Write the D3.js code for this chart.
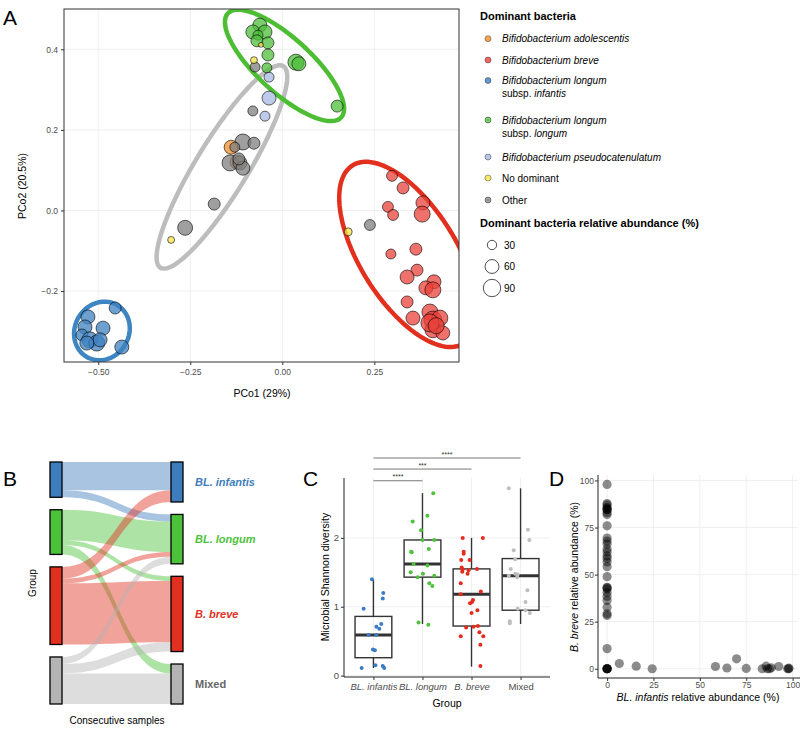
<!DOCTYPE html>
<html>
<head>
<meta charset="utf-8">
<script src="https://cdn.jsdelivr.net/npm/d3@7"></script>
<style>
  html, body { margin: 0; padding: 0; background: #fff; }
  svg { display: block; font-family: "Liberation Sans", Arial, Helvetica, sans-serif; }
</style>
</head>
<body>
<div id="chart"></div>
<script>
// ---- data ----
const speciesKeys = ["adolescentis", "breve", "infantis", "longum", "pseudo", "none", "other"];
const speciesColors = ["#F28E2B", "#E8423A", "#3F81C0", "#4DBD3A", "#A8B8E2", "#F5E447", "#7F7F7F"];

// PCoA points: [PCo1, PCo2, dominant abundance %, species]
const pcoaPoints = [
  [-0.185, 0.016, 36, "other"], [-0.264, -0.043, 56, "other"], [0.238, -0.036, 30, "other"],
  [-0.074, 0.356, 25, "other"], [-0.080, 0.247, 25, "other"], [-0.107, 0.170, 64, "other"],
  [-0.077, 0.167, 36, "other"],
  [-0.139, 0.157, 49, "adolescentis"], [-0.123, 0.120, 49, "adolescentis"],
  [-0.129, 0.157, 25, "other"], [-0.142, 0.118, 64, "other"], [-0.115, 0.118, 49, "other"],
  [-0.107, 0.105, 49, "other"], [-0.118, 0.128, 36, "other"],
  [-0.036, 0.331, 25, "pseudo"], [-0.036, 0.279, 49, "pseudo"], [-0.047, 0.234, 25, "pseudo"],
  [-0.061, 0.460, 49, "longum"], [-0.080, 0.443, 49, "longum"], [-0.047, 0.443, 49, "longum"],
  [-0.066, 0.435, 25, "longum"], [-0.069, 0.421, 36, "longum"], [-0.039, 0.416, 36, "longum"],
  [-0.039, 0.386, 36, "longum"], [-0.042, 0.354, 25, "longum"], [0.037, 0.368, 64, "longum"],
  [0.045, 0.364, 49, "longum"], [0.149, 0.259, 36, "longum"],
  [-0.077, 0.373, 12, "none"], [-0.058, 0.411, 6, "none"], [-0.302, -0.073, 12, "none"], [0.179, -0.053, 16, "none"],
  [0.298, 0.086, 30, "breve"], [0.328, 0.056, 36, "breve"], [0.382, 0.019, 49, "breve"],
  [0.380, -0.009, 64, "breve"], [0.287, 0.009, 30, "breve"], [0.301, -0.011, 30, "breve"],
  [0.295, -0.108, 25, "breve"], [0.363, -0.096, 36, "breve"], [0.366, -0.148, 36, "breve"],
  [0.339, -0.165, 49, "breve"], [0.412, -0.177, 49, "breve"], [0.390, -0.192, 49, "breve"],
  [0.409, -0.197, 64, "breve"], [0.339, -0.227, 36, "breve"], [0.355, -0.267, 49, "breve"],
  [0.401, -0.252, 64, "breve"], [0.409, -0.272, 81, "breve"], [0.428, -0.267, 64, "breve"],
  [0.409, -0.296, 64, "breve"], [0.436, -0.304, 49, "breve"], [0.401, -0.279, 81, "breve"],
  [0.418, -0.286, 64, "breve"],
  [-0.454, -0.242, 36, "infantis"], [-0.528, -0.264, 49, "infantis"], [-0.487, -0.292, 49, "infantis"],
  [-0.536, -0.289, 49, "infantis"], [-0.544, -0.309, 36, "infantis"], [-0.523, -0.321, 64, "infantis"],
  [-0.504, -0.329, 64, "infantis"], [-0.495, -0.321, 49, "infantis"], [-0.531, -0.329, 49, "infantis"],
  [-0.436, -0.339, 49, "infantis"]
];

// group ellipses: centre and two conjugate semi-axes, PCoA units
const ellipses = [
  { color: "#BDBDBD", c: [-0.164, 0.108], a: [0.167, 0.250], b: [0.060, -0.034] },
  { color: "#4DBE34", c: [0.006, 0.360], a: [0.154, -0.129], b: [-0.0497, -0.0494] },
  { color: "#E2301E", c: [0.342, -0.109], a: [0.151, -0.221], b: [-0.111, -0.063] },
  { color: "#3E86C2", c: [-0.490, -0.299], a: [0.041, 0.0645], b: [0.0636, -0.0335] }
];

const pcoaXTicks = [-0.5, -0.25, 0, 0.25];
const pcoaYTicks = [-0.2, 0, 0.2, 0.4];
const sizeLegend = [30, 60, 90];

// Sankey / boxplot groups
const groups = ["BL. infantis", "BL. longum", "B. breve", "Mixed"];
const groupColors = ["#3D7DBD", "#4CC23A", "#E1301F", "#B4B4B4"];
const pointColors = ["#3B7DC4", "#4DC23A", "#E8291C", "#BEBEBE"];
// [from, to, number of sample pairs]
const flows = [
  [0, 0, 12], [0, 1, 3],
  [1, 1, 13], [1, 2, 2], [1, 3, 4],
  [2, 0, 5], [2, 1, 2], [2, 2, 26],
  [3, 1, 3], [3, 2, 4], [3, 3, 13]
];

// Shannon diversity: [low whisker, q1, median, q3, high whisker]
const boxStats = [
  [0.11, 0.26, 0.59, 0.86, 1.40],
  [0.75, 1.43, 1.62, 1.97, 2.65],
  [0.13, 0.72, 1.18, 1.55, 2.00],
  [0.75, 0.95, 1.45, 1.70, 2.72]
];
// [jitter (in category steps), diversity]
const shannonInfantis = [[-0.03, 1.40], [0.20, 1.20], [0.19, 1.12], [-0.20, 0.97], [0.16, 0.75], [0.06, 0.71], [0.12, 0.68], [-0.10, 0.59], [0.06, 0.59], [-0.01, 0.38], [0.03, 0.37], [0.04, 0.15], [0.19, 0.14], [0.22, 0.11], [-0.24, 0.11]];
const shannonLongum = [[0.22, 2.65], [0.10, 2.32], [-0.20, 2.24], [-0.03, 2.11], [0, 1.97], [0.24, 1.97], [0.13, 1.84], [-0.23, 1.80], [-0.22, 1.79], [-0.18, 1.62], [0.10, 1.60], [0.01, 1.48], [-0.10, 1.43], [0.24, 1.45], [0.14, 1.34], [0.20, 1.30], [-0.08, 0.77], [0.12, 0.74], [-0.24, 1.50]];
const shannonBreve = [[-0.18, 2.0], [0.23, 2.0], [-0.16, 1.80], [-0.16, 1.77], [-0.21, 1.68], [-0.04, 1.68], [-0.20, 1.57], [-0.18, 1.54], [-0.06, 1.53], [0.11, 1.55], [-0.19, 1.51], [-0.08, 1.48], [-0.22, 1.34], [0.19, 1.22], [-0.22, 1.18], [0.03, 1.10], [0.01, 1.07], [-0.03, 1.05], [0.12, 0.95], [0, 0.91], [-0.11, 0.70], [0.04, 0.71], [0.13, 0.72], [0.16, 0.63], [-0.22, 0.57], [0.24, 0.57], [0.18, 0.45], [0.18, 0.14]];
const shannonMixed = [[-0.24, 2.72], [0.15, 2.12], [0.18, 1.97], [-0.14, 1.82], [-0.11, 1.69], [-0.20, 1.55], [-0.11, 1.48], [-0.06, 1.47], [-0.24, 1.45], [-0.07, 1.43], [0.14, 1.24], [0.10, 1.07], [-0.06, 0.97], [0.10, 0.95], [0.19, 0.91], [-0.22, 0.79], [-0.22, 0.76]];
const shannonPoints = [shannonInfantis, shannonLongum, shannonBreve, shannonMixed];
// [group a, group b, label, y]
const sigBars = [[0, 1, "****", 2.83], [0, 2, "***", 3.0], [0, 3, "****", 3.16]];

// panel D: [BL. infantis %, B. breve %]
const abundPoints = [
  [0, 97.9], [0, 87.7], [0, 87], [0, 85.6], [0, 85], [0, 84.5], [0, 84.5], [0, 82.9], [0, 81.9],
  [0, 75.9], [0, 69.4], [0, 67.8], [0, 66.2], [0, 63.6], [0, 62], [0, 59.9], [0, 58.6], [0, 56.7],
  [0, 54.2], [0, 48.9], [0, 43.3], [0, 43], [0, 42.4], [0, 40.5], [0, 38.4], [0, 36.3], [0, 32.7],
  [0, 29.2], [0, 28.3], [0, 10.7], [0, 0], [0, 0], [0, 0], [0, 0], [0, 0],
  [6.6, 2.8], [15.7, 1.4], [24.3, 0], [58.4, 1.2], [64.6, 0.4], [69.8, 5.3], [75, 0.2],
  [83.6, 0], [85.7, 1.4], [86.4, 0], [87.5, 0], [88.5, 0.5], [92.5, 1.2], [97.3, 0], [97.9, 0], [98, 0.3]
];
const abundTicks = [0, 25, 50, 75, 100];

// ---- drawing ----
const W = 800, H = 730;
const svg = d3.select("#chart").append("svg").attr("width", W).attr("height", H);
const GRID = "#EBEBEB";
const TICKTXT = "#4D4D4D";

const colorOf = d3.scaleOrdinal().domain(speciesKeys).range(speciesColors);

function panelLabel(x, y, t) {
  svg.append("text").attr("x", x).attr("y", y).attr("font-size", 21).text(t);
}

// ================= Panel A =================
const xA = d3.scaleLinear().domain([-0.593, 0.480]).range([64, 459]);
const yA = d3.scaleLinear().domain([-0.376, 0.5]).range([362, 9]);
const rA = d3.scaleSqrt().domain([0, 100]).range([0, 10]);

svg.append("clipPath").attr("id", "clipA")
  .append("rect").attr("x", 64).attr("y", 9).attr("width", 395).attr("height", 353);

const gA = svg.append("g");

gA.append("g")
  .selectAll("line.vx").data(pcoaXTicks).join("line")
  .attr("x1", d => xA(d)).attr("x2", d => xA(d)).attr("y1", 9).attr("y2", 362)
  .attr("stroke", GRID).attr("stroke-width", 0.8);
gA.append("g")
  .selectAll("line.hy").data(pcoaYTicks).join("line")
  .attr("x1", 64).attr("x2", 459).attr("y1", d => yA(d)).attr("y2", d => yA(d))
  .attr("stroke", GRID).attr("stroke-width", 0.8);

const clipped = gA.append("g").attr("clip-path", "url(#clipA)");

const ellLine = d3.line().x(p => xA(p[0])).y(p => yA(p[1])).curve(d3.curveLinearClosed);
ellipses.forEach(e => {
  const pts = d3.range(0, 120).map(i => {
    const t = i / 120 * 2 * Math.PI;
    return [e.c[0] + e.a[0] * Math.cos(t) + e.b[0] * Math.sin(t),
            e.c[1] + e.a[1] * Math.cos(t) + e.b[1] * Math.sin(t)];
  });
  clipped.append("path").attr("d", ellLine(pts))
    .attr("fill", "none").attr("stroke", e.color).attr("stroke-width", 4.5);
});

clipped.selectAll("circle").data(pcoaPoints).join("circle")
  .attr("cx", d => xA(d[0])).attr("cy", d => yA(d[1])).attr("r", d => rA(d[2]))
  .attr("fill", d => colorOf(d[3])).attr("fill-opacity", 0.75)
  .attr("stroke", "#000").attr("stroke-opacity", 0.75).attr("stroke-width", 0.8);

gA.append("rect").attr("x", 64).attr("y", 9).attr("width", 395).attr("height", 353)
  .attr("fill", "none").attr("stroke", "#333").attr("stroke-width", 1);

const axA = gA.append("g").attr("transform", "translate(0,362)")
  .call(d3.axisBottom(xA).tickValues(pcoaXTicks).tickSize(3).tickPadding(4).tickFormat(d3.format(".2f")));
const ayA = gA.append("g").attr("transform", "translate(64,0)")
  .call(d3.axisLeft(yA).tickValues(pcoaYTicks).tickSize(3).tickPadding(3).tickFormat(d3.format(".1f")));
[axA, ayA].forEach(a => {
  a.select(".domain").remove();
  a.selectAll("line").attr("stroke", "#333");
  a.selectAll("text").attr("fill", TICKTXT).attr("font-size", 8.5).attr("font-family", null);
});

svg.append("text").attr("x", 262).attr("y", 397).attr("text-anchor", "middle")
  .attr("font-size", 10.5).text("PCo1 (29%)");
svg.append("text").attr("transform", "translate(26,186) rotate(-90)").attr("text-anchor", "middle")
  .attr("font-size", 10.5).text("PCo2 (20.5%)");

panelLabel(3, 25, "A");

// legend
const leg = svg.append("g");
leg.append("text").attr("x", 480).attr("y", 20).attr("font-size", 11).attr("font-weight", "bold").text("Dominant bacteria");
const legItems = [
  { key: "adolescentis", y: 38.7, lines: [[["Bifidobacterium adolescentis", true]]] },
  { key: "breve", y: 60, lines: [[["Bifidobacterium breve", true]]] },
  { key: "infantis", y: 80.5, lines: [[["Bifidobacterium longum", true]], [["subsp. ", false], ["infantis", true]]] },
  { key: "longum", y: 120, lines: [[["Bifidobacterium longum", true]], [["subsp. ", false], ["longum", true]]] },
  { key: "pseudo", y: 157, lines: [[["Bifidobacterium pseudocatenulatum", true]]] },
  { key: "none", y: 178, lines: [[["No dominant", false]]] },
  { key: "other", y: 200, lines: [[["Other", false]]] }
];
legItems.forEach(it => {
  leg.append("circle").attr("cx", 488).attr("cy", it.y).attr("r", 3)
    .attr("fill", colorOf(it.key)).attr("fill-opacity", 0.8)
    .attr("stroke", "#000").attr("stroke-opacity", 0.6).attr("stroke-width", 0.6);
  it.lines.forEach((ln, i) => {
    const t = leg.append("text").attr("x", 502).attr("y", it.y + 3.5 + i * 13.3).attr("font-size", 10);
    ln.forEach(([s, it2]) => t.append("tspan").attr("font-style", it2 ? "italic" : "normal").text(s));
  });
});
leg.append("text").attr("x", 480).attr("y", 227).attr("font-size", 11).attr("font-weight", "bold")
  .text("Dominant bacteria relative abundance (%)");
sizeLegend.forEach((v, i) => {
  const cy = 245 + i * 21.5;
  leg.append("circle").attr("cx", 492).attr("cy", cy).attr("r", rA(v) - 0.8)
    .attr("fill", "none").attr("stroke", "#222").attr("stroke-width", 0.8);
  leg.append("text").attr("x", 504).attr("y", cy + 3.5).attr("font-size", 10).text(v);
});

// ================= Panel B (alluvial) =================
const nG = groups.length;
const gapU = 5.3;
const total = d3.sum(flows, f => f[2]);
const yB = d3.scaleLinear().domain([0, total + gapU * (nG - 1)]).range([462, 704]);
const leftX = [50, 62], rightX = [171, 183];

const leftTot = groups.map((_, i) => d3.sum(flows.filter(f => f[0] === i), f => f[2]));
const rightTot = groups.map((_, i) => d3.sum(flows.filter(f => f[1] === i), f => f[2]));
const leftTop = [], rightTop = [];
let accL = 0, accR = 0;
for (let i = 0; i < nG; i++) {
  leftTop.push(accL); accL += leftTot[i] + gapU;
  rightTop.push(accR); accR += rightTot[i] + gapU;
}
const srcOff = leftTop.slice(), tgtOff = rightTop.slice();
const ribbons = flows.map(f => ({ f }));
ribbons.slice().sort((a, b) => a.f[0] - b.f[0] || a.f[1] - b.f[1])
  .forEach(r => { r.s0 = srcOff[r.f[0]]; srcOff[r.f[0]] += r.f[2]; });
ribbons.slice().sort((a, b) => a.f[1] - b.f[1] || a.f[0] - b.f[0])
  .forEach(r => { r.t0 = tgtOff[r.f[1]]; tgtOff[r.f[1]] += r.f[2]; });

const gB = svg.append("g");
const x0 = leftX[1], x1 = rightX[0], xm = (x0 + x1) / 2;
gB.selectAll("path.flow").data(ribbons).join("path")
  .attr("d", r => {
    const a0 = yB(r.s0), a1 = yB(r.s0 + r.f[2]);
    const b0 = yB(r.t0), b1 = yB(r.t0 + r.f[2]);
    return `M${x0},${a0}C${xm},${a0} ${xm},${b0} ${x1},${b0}L${x1},${b1}C${xm},${b1} ${xm},${a1} ${x0},${a1}Z`;
  })
  .attr("fill", r => groupColors[r.f[0]]).attr("fill-opacity", 0.45);

groups.forEach((g, i) => {
  gB.append("rect").attr("x", leftX[0]).attr("y", yB(leftTop[i])).attr("width", leftX[1] - leftX[0])
    .attr("height", yB(leftTop[i] + leftTot[i]) - yB(leftTop[i]))
    .attr("fill", groupColors[i]).attr("stroke", "#000").attr("stroke-width", 1.3);
  gB.append("rect").attr("x", rightX[0]).attr("y", yB(rightTop[i])).attr("width", rightX[1] - rightX[0])
    .attr("height", yB(rightTop[i] + rightTot[i]) - yB(rightTop[i]))
    .attr("fill", groupColors[i]).attr("stroke", "#000").attr("stroke-width", 1.3);
  const cy = (yB(rightTop[i]) + yB(rightTop[i] + rightTot[i])) / 2;
  gB.append("text").attr("x", 195).attr("y", cy + 4).attr("font-size", 11).attr("font-weight", "bold")
    .attr("font-style", i < 3 ? "italic" : "normal")
    .attr("fill", i < 3 ? groupColors[i] : "#666").text(g);
});
svg.append("text").attr("transform", "translate(36,583) rotate(-90)").attr("text-anchor", "middle")
  .attr("font-size", 10).text("Group");
svg.append("text").attr("x", 117).attr("y", 724).attr("text-anchor", "middle")
  .attr("font-size", 10).text("Consecutive samples");
panelLabel(3, 486, "B");

// ================= Panel C (boxplot) =================
const xC = d3.scalePoint().domain(d3.range(nG)).range([344, 550]).padding(0.6);
const stepC = xC.step();
const yC = d3.scaleLinear().domain([-0.02, 2.87]).range([677, 478]);
const gC = svg.append("g");

gC.selectAll("line.gx").data(d3.range(nG)).join("line")
  .attr("x1", d => xC(d)).attr("x2", d => xC(d)).attr("y1", 478).attr("y2", 677)
  .attr("stroke", GRID).attr("stroke-width", 0.8);
gC.selectAll("line.gy").data([0, 1, 2]).join("line")
  .attr("x1", 344).attr("x2", 550).attr("y1", d => yC(d)).attr("y2", d => yC(d))
  .attr("stroke", GRID).attr("stroke-width", 0.8);

const bw = stepC * 0.75;
boxStats.forEach((s, i) => {
  const cx = xC(i);
  const bg = gC.append("g").attr("stroke", "#333").attr("fill", "none");
  bg.append("line").attr("x1", cx).attr("x2", cx).attr("y1", yC(s[0])).attr("y2", yC(s[1])).attr("stroke-width", 1.4);
  bg.append("line").attr("x1", cx).attr("x2", cx).attr("y1", yC(s[3])).attr("y2", yC(s[4])).attr("stroke-width", 1.4);
  bg.append("rect").attr("x", cx - bw / 2).attr("y", yC(s[3])).attr("width", bw)
    .attr("height", yC(s[1]) - yC(s[3])).attr("stroke-width", 1.4);
  bg.append("line").attr("x1", cx - bw / 2).attr("x2", cx + bw / 2).attr("y1", yC(s[2])).attr("y2", yC(s[2]))
    .attr("stroke-width", 3);
});
shannonPoints.forEach((pts, i) => {
  gC.append("g").selectAll("circle").data(pts).join("circle")
    .attr("cx", d => xC(i) + d[0] * stepC).attr("cy", d => yC(d[1])).attr("r", 2)
    .attr("fill", pointColors[i]);
});

sigBars.forEach(([a, b, lab, y]) => {
  gC.append("line").attr("x1", xC(a)).attr("x2", xC(b)).attr("y1", yC(y)).attr("y2", yC(y))
    .attr("stroke", "#555").attr("stroke-width", 0.8);
  gC.append("text").attr("x", (xC(a) + xC(b)) / 2).attr("y", yC(y) - 1.5).attr("text-anchor", "middle")
    .attr("font-size", 7).attr("fill", "#333").text(lab);
});

gC.append("line").attr("x1", 344).attr("x2", 344).attr("y1", 478).attr("y2", 677).attr("stroke", "#222");
gC.append("line").attr("x1", 344).attr("x2", 550).attr("y1", 677).attr("y2", 677).attr("stroke", "#222");
const ayC = gC.append("g").attr("transform", "translate(344,0)")
  .call(d3.axisLeft(yC).tickValues([0, 1, 2]).tickSize(3).tickPadding(2).tickFormat(d3.format("d")));
const axC = gC.append("g").attr("transform", "translate(0,677)")
  .call(d3.axisBottom(xC).tickSize(3).tickPadding(3).tickFormat(i => groups[i]));
[axC, ayC].forEach(a => {
  a.select(".domain").remove();
  a.selectAll("line").attr("stroke", "#333");
  a.selectAll("text").attr("fill", TICKTXT).attr("font-size", 9.5).attr("font-family", null);
});
axC.selectAll("text").attr("font-style", i => i < 3 ? "italic" : "normal");
svg.append("text").attr("x", 447).attr("y", 707).attr("text-anchor", "middle").attr("font-size", 10.5).text("Group");
svg.append("text").attr("transform", "translate(329,577) rotate(-90)").attr("text-anchor", "middle")
  .attr("font-size", 10.5).text("Microbial Shannon diversity");
panelLabel(303, 486, "C");

// ================= Panel D (scatter) =================
const xD = d3.scaleLinear().domain([-4.9, 102.9]).range([598, 798]);
const yD = d3.scaleLinear().domain([-4.9, 102.9]).range([678, 475]);
const gD = svg.append("g");
gD.selectAll("line.gx").data(abundTicks).join("line")
  .attr("x1", d => xD(d)).attr("x2", d => xD(d)).attr("y1", 475).attr("y2", 678)
  .attr("stroke", GRID).attr("stroke-width", 0.8);
gD.selectAll("line.gy").data(abundTicks).join("line")
  .attr("x1", 598).attr("x2", 798).attr("y1", d => yD(d)).attr("y2", d => yD(d))
  .attr("stroke", GRID).attr("stroke-width", 0.8);
gD.append("g").selectAll("circle").data(abundPoints).join("circle")
  .attr("cx", d => xD(d[0])).attr("cy", d => yD(d[1])).attr("r", 4.6)
  .attr("fill", "#000").attr("fill-opacity", 0.45);
gD.append("line").attr("x1", 598).attr("x2", 598).attr("y1", 475).attr("y2", 678).attr("stroke", "#222");
gD.append("line").attr("x1", 598).attr("x2", 800).attr("y1", 678).attr("y2", 678).attr("stroke", "#222");
const axD = gD.append("g").attr("transform", "translate(0,678)")
  .call(d3.axisBottom(xD).tickValues(abundTicks).tickSize(3).tickPadding(1));
const ayD = gD.append("g").attr("transform", "translate(598,0)")
  .call(d3.axisLeft(yD).tickValues(abundTicks).tickSize(3).tickPadding(1));
[axD, ayD].forEach(a => {
  a.select(".domain").remove();
  a.selectAll("line").attr("stroke", "#333");
  a.selectAll("text").attr("fill", TICKTXT).attr("font-size", 8.5).attr("font-family", null);
});
const tD = svg.append("text").attr("x", 698).attr("y", 701).attr("text-anchor", "middle").attr("font-size", 10.5);
tD.append("tspan").attr("font-style", "italic").text("BL. infantis");
tD.append("tspan").text(" relative abundance (%)");
const tDy = svg.append("text").attr("transform", "translate(578,577) rotate(-90)").attr("text-anchor", "middle").attr("font-size", 10.5);
tDy.append("tspan").attr("font-style", "italic").text("B. breve");
tDy.append("tspan").text(" relative abundance (%)");
panelLabel(549, 486, "D");
</script>
</body>
</html>
